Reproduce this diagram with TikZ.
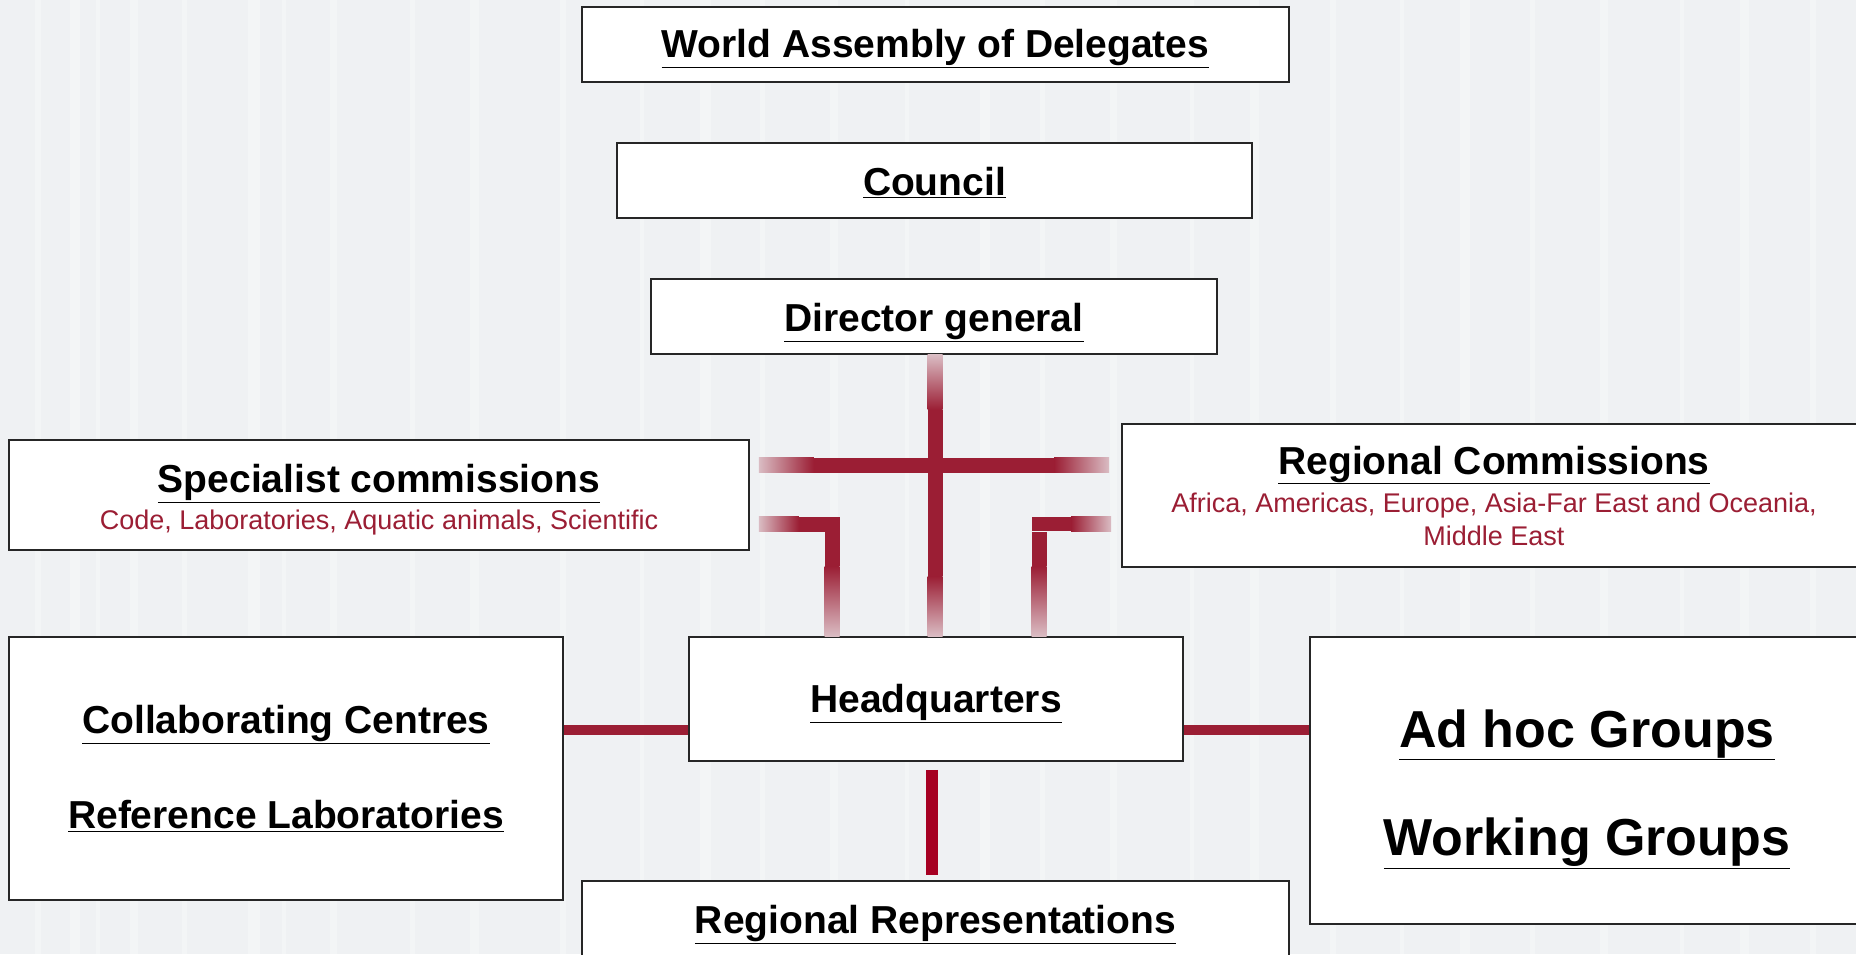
\documentclass[tikz,border=0pt]{standalone}
\usepackage{fontspec}
\setmainfont{Liberation Sans}
\usetikzlibrary{positioning,calc}
\definecolor{oiered}{RGB}{155,30,52}
\definecolor{oiebright}{RGB}{166,0,34}
\definecolor{oiebg}{RGB}{239,241,243}
\colorlet{oiefade}{oiered!25!oiebg}
\newcommand{\boxtitle}{\fontsize{39}{44}\selectfont\bfseries}
\newcommand{\boxsub}{\fontsize{27}{33}\selectfont\mdseries\color{oiered}}
\newcommand{\boxbig}{\fontsize{52}{60}\selectfont\bfseries}
\newcommand{\topstrut}[1]{\rule{0pt}{#1}}
\tikzset{orgbox/.style={draw=black!85,line width=1.6pt,fill=white,inner sep=0pt,align=center,font=\boxtitle}}
\tikzset{hline/.style={oiered,line width=10pt}}

\begin{document}
\begin{tikzpicture}[x=1pt,y=-1pt]
\fill[oiebg] (0,0) rectangle (1856,954);
\foreach \x/\w in {35/6,70/10,96/4,130/8,182/5,248/12,282/4,330/7,410/5,470/9,560/6,640/4,700/11,760/5,830/8,905/4,980/10,1040/5,1110/7,1190/4,1250/9,1330/6,1400/4,1460/10,1530/5,1600/8,1680/4,1740/9,1810/6}
  \fill[white,opacity=0.3] (\x,0) rectangle ++(\w,954);
\useasboundingbox (0,0) rectangle (1856,954);

% boxes
\node[orgbox,minimum width=707,minimum height=75] (wad) at (935.5,44.5) {\topstrut{35.5pt}\underline{World Assembly of Delegates}};
\node[orgbox,minimum width=635,minimum height=75] (council) at (934.5,180.5) {\topstrut{33pt}\underline{Council}};
\node[orgbox,minimum width=566,minimum height=75] (dg) at (934,316.5) {\topstrut{40.5pt}\underline{Director general}};
\node[orgbox,minimum width=740,minimum height=110] (spec) at (379,495)
  {\topstrut{38.5pt}\underline{Specialist commissions}\\[-7pt]\boxsub Code, Laboratories, Aquatic animals, Scientific};
\node[orgbox,minimum width=744,minimum height=143] (regcom) at (1494,495.5)
  {\underline{Regional Commissions}\\[-6pt]\boxsub Africa, Americas, Europe, Asia-Far East and Oceania,\\[-11pt]\boxsub Middle East};
\node[orgbox,minimum width=554,minimum height=263] (collab) at (286,768.5)
  {\underline{Collaborating Centres}\\[51pt]\underline{Reference Laboratories}};
\node[orgbox,minimum width=494,minimum height=124] (hq) at (936,699) {\topstrut{36.5pt}\underline{Headquarters}};
\node[orgbox,minimum width=554,minimum height=287,font=\boxbig] (adhoc) at (1587,780.5)
  {\topstrut{54.5pt}\underline{Ad hoc Groups}\\[48.5pt]\underline{Working Groups}};
\node[orgbox,minimum width=707,minimum height=75] (regrep) at (935.5,918.5) {\topstrut{40.5pt}\underline{Regional Representations}};

% main stem, director -> headquarters
\coordinate (stemT) at ($(dg.south)+(1,0)$);
\coordinate (stemB) at (stemT |- hq.north);
\shade[top color=oiefade,bottom color=oiered] ($(stemT)+(-7.5,0)$) rectangle ($(stemT)+(7.5,55)$);
\fill[oiered] ($(stemT)+(-7.5,55)$) rectangle ($(stemB)+(7.5,-60)$);
\shade[top color=oiered,bottom color=oiefade] ($(stemB)+(-7.5,-60)$) rectangle ($(stemB)+(7.5,0)$);

% cross bar, specialist -- regional commissions
\coordinate (barL) at ($(spec.east)+(9,-30)$);
\coordinate (barR) at ($(regcom.west)+(-12,-30.5)$);
\shade[left color=oiefade,right color=oiered] ($(barL)+(0,-7.5)$) rectangle ($(barL)+(55,7.5)$);
\fill[oiered] ($(barL)+(55,-7.5)$) rectangle ($(barR)+(-55,7.5)$);
\shade[left color=oiered,right color=oiefade] ($(barR)+(-55,-7.5)$) rectangle ($(barR)+(0,7.5)$);

% left elbow, specialist -> headquarters
\coordinate (elL) at ($(spec.east)+(9,29)$);
\coordinate (cnL) at (832,524);
\shade[left color=oiefade,right color=oiered] ($(elL)+(0,-7.5)$) rectangle ($(elL)+(40,7.5)$);
\fill[oiered] ($(elL)+(40,-7.5)$) rectangle ($(cnL)+(7.5,7.5)$);
\fill[oiered] ($(cnL)+(-7.5,7.5)$) rectangle ($(cnL |- hq.north)+(7.5,-70)$);
\shade[top color=oiered,bottom color=oiefade] ($(cnL |- hq.north)+(-7.5,-70)$) rectangle ($(cnL |- hq.north)+(7.5,0)$);

% right elbow, regional commissions -> headquarters
\coordinate (elR) at ($(regcom.west)+(-10,28)$);
\coordinate (cnR) at (1039,524);
\shade[left color=oiered,right color=oiefade] ($(elR)+(-40,-7.5)$) rectangle ($(elR)+(0,7.5)$);
\fill[oiered] ($(cnR)+(-7.5,-7.5)$) rectangle ($(elR)+(-40,7.5)$);
\fill[oiered] ($(cnR)+(-7.5,7.5)$) rectangle ($(cnR |- hq.north)+(7.5,-70)$);
\shade[top color=oiered,bottom color=oiefade] ($(cnR |- hq.north)+(-7.5,-70)$) rectangle ($(cnR |- hq.north)+(7.5,0)$);

% side links
\draw[hline] ([yshift=-31pt]hq.west) -- ([yshift=-31pt]hq.west -| collab.east);
\draw[hline] ([yshift=-31pt]hq.east) -- ([yshift=-31pt]hq.east -| adhoc.west);
\draw[oiebright,line width=12pt] ([xshift=-4pt,yshift=-8pt]hq.south) -- ([xshift=-3.5pt,yshift=5pt]regrep.north);
\end{tikzpicture}
\end{document}
